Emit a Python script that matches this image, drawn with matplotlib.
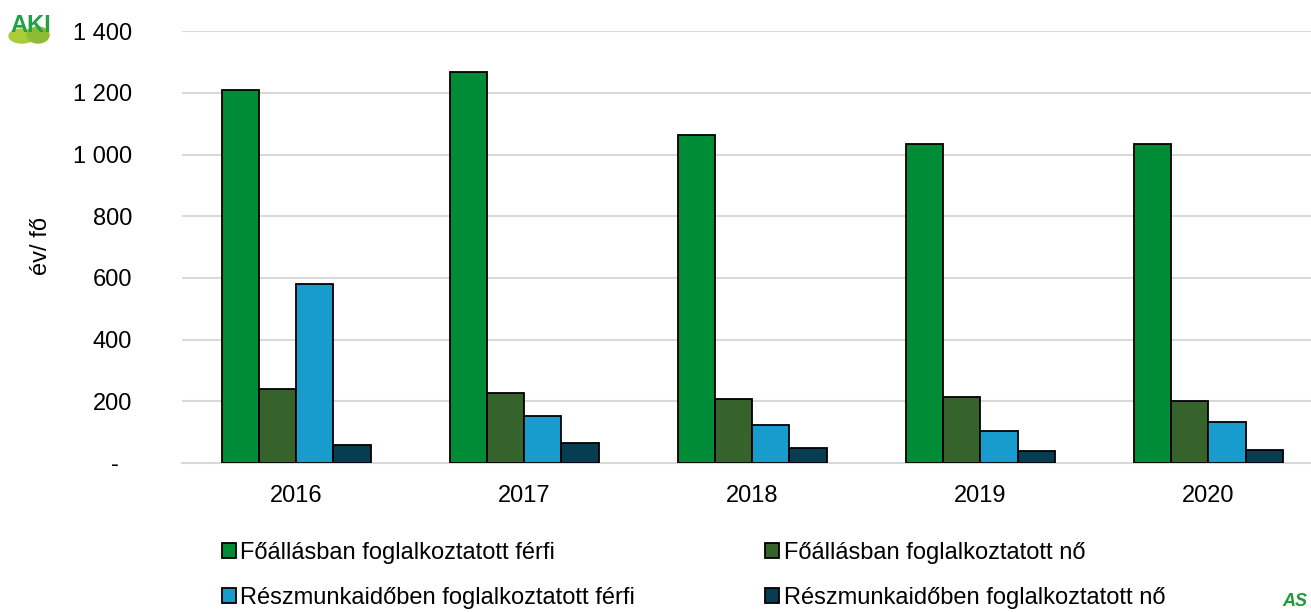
import matplotlib.pyplot as plt
from matplotlib.patches import Ellipse
import numpy as np

plt.rcParams['font.family'] = ['Liberation Sans', 'DejaVu Sans']

years = ['2016', '2017', '2018', '2019', '2020']
fo_ferfi = [1211, 1269, 1064, 1033, 1035]
fo_no = [240, 227, 209, 213, 200]
resz_ferfi = [581, 152, 123, 105, 133]
resz_no = [58, 64, 50, 39, 43]

labels = ['Főállásban foglalkoztatott férfi',
          'Főállásban foglalkoztatott nő',
          'Részmunkaidőben foglalkoztatott férfi',
          'Részmunkaidőben foglalkoztatott nő']
colors = ['#008C36', '#36622B', '#189CCE', '#083C50']
yticks = [0, 200, 400, 600, 800, 1000, 1200, 1400]
ytick_labels = ['-  ', '200', '400', '600', '800', '1 000', '1 200', '1 400']

W, H = 1311, 612
fig = plt.figure(figsize=(W / 100, H / 100), dpi=100)
ax = fig.add_axes([0.139, 0.2435, 0.861, 0.7055])

x = np.arange(len(years))
w = 0.163
series = [fo_ferfi, fo_no, resz_ferfi, resz_no]
bars = []
for i, vals in enumerate(series):
    b = ax.bar(x + (i - 1.5) * w, vals, w, color=colors[i], edgecolor='black',
               linewidth=1.3, label=labels[i], zorder=3)
    bars.append(b)

ax.set_ylim(0, 1400)
ax.set_xlim(-0.5, 4.45)
ax.set_yticks(yticks)
ax.set_yticklabels(ytick_labels)
ax.set_xticks(x)
ax.set_xticklabels(years)
ax.tick_params(axis='both', length=0, labelsize=17)
ax.tick_params(axis='y', pad=36)
ax.tick_params(axis='x', pad=16)
ax.yaxis.grid(True, color='#D9D9D9', linewidth=1.5, zorder=0)
for s in ['top', 'right', 'left']:
    ax.spines[s].set_visible(False)
ax.spines['bottom'].set_color('#D9D9D9')
ax.spines['bottom'].set_linewidth(1.5)

# y axis title
fig.text(41 / W, 1 - 246 / H, 'év/ fő', fontsize=17, rotation=90,
         ha='center', va='center')

order = [0, 2, 1, 3]
fig.legend([bars[i] for i in order], [labels[i] for i in order],
           ncol=2, loc='center left', bbox_to_anchor=(222 / W, 1 - 575.5 / H),
           frameon=False, fontsize=17, handlelength=0.6, handleheight=0.6,
           handletextpad=0.18, columnspacing=5.5, labelspacing=0.95,
           borderaxespad=0, borderpad=0)

# logos
fig.add_artist(Ellipse((22 / W, 1 - 36 / H), 26 / W, 14 / H,
                       color='#A9CC3A', transform=fig.transFigure))
fig.add_artist(Ellipse((38 / W, 1 - 35 / H), 22 / W, 16 / H,
                       color='#8DBB33', transform=fig.transFigure))
fig.text(10 / W, 1 - 26 / H, 'AKI', color='#22A046', fontsize=17,
         fontweight='bold', va='center', ha='left')
fig.text(1307 / W, 2 / H, 'AS', color='#1E9A3A', fontsize=13, fontweight='bold',
         fontstyle='italic', va='bottom', ha='right')

fig.savefig('out.png', dpi=100)
